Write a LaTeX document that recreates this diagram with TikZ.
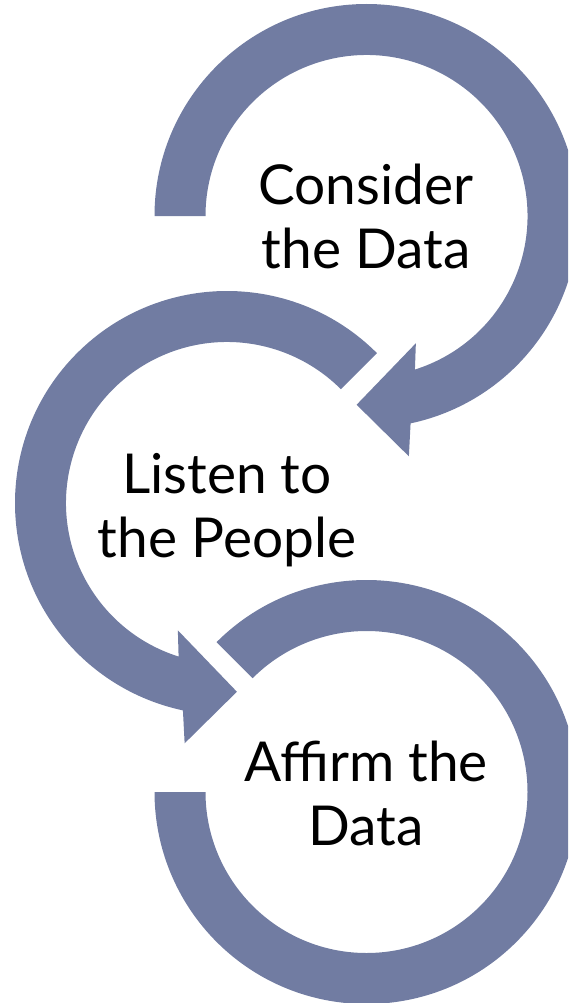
\documentclass[tikz,border=0pt]{standalone}
\usepackage{fontspec}
\setmainfont{Lato}
\usetikzlibrary{calc}
\definecolor{ringblue}{RGB}{113,124,162}
\begin{document}
\begin{tikzpicture}[x=1pt,y=1pt,
  ring/.style={fill=ringblue},
  label/.style={font=\fontsize{55}{64}\selectfont, align=center, inner sep=0pt, anchor=base, text=black}]
\useasboundingbox (0,0) rectangle (568,-1003);
\clip (0,0) rectangle (568,-1003);
\coordinate (A) at (366.5,-216);
\coordinate (B) at (227,-503);
\coordinate (C) at (366.5,-792);
% top arrow
\fill[ring] ($(A)+(180:212)$) arc[start angle=180, end angle=-78, radius=212]
  -- ($(A)+(-80:244)$) -- ($(A)+(-93:189)$) -- ($(A)+(-68.8:136.5)$)
  -- ($(A)+(-72.5:161)$) arc[start angle=-72.5, end angle=180, radius=161] -- cycle;
% middle arrow
\fill[ring] ($(B)+(45:212)$) arc[start angle=45, end angle=258, radius=212]
  -- ($(B)+(260:244)$) -- ($(B)+(273:189)$) -- ($(B)+(248.9:136.5)$)
  -- ($(B)+(252.5:161)$) arc[start angle=252.5, end angle=45, radius=161] -- cycle;
% bottom ring
\fill[ring] ($(C)+(135:212)$) arc[start angle=135, end angle=-180, radius=212]
  -- ($(C)+(180:161)$) arc[start angle=-180, end angle=135, radius=161] -- cycle;
\node[label] (t1) at (366,-268) {Consider\\the Data};
\node[label] (t2) at (227,-557) {Listen to\\the People};
\node[label] (t3) at (366,-845) {Affirm the\\Data};
\end{tikzpicture}
\end{document}
